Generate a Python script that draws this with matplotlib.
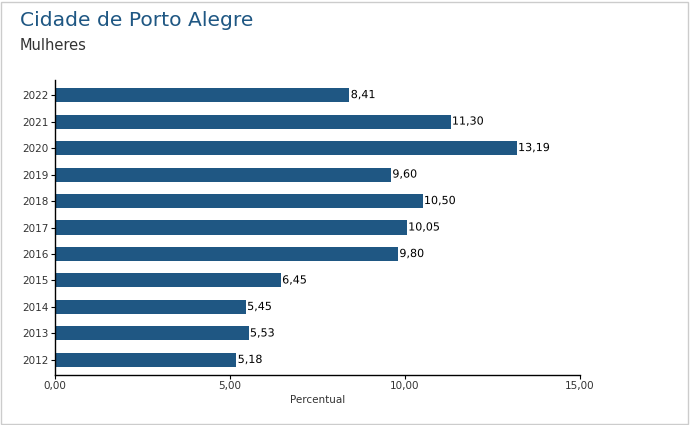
import matplotlib.pyplot as plt
import matplotlib.patheffects as pe
from matplotlib.patches import Rectangle

YEARS = ['2012', '2013', '2014', '2015', '2016', '2017', '2018', '2019', '2020', '2021', '2022']
VALUES = [5.18, 5.53, 5.45, 6.45, 9.80, 10.05, 10.50, 9.60, 13.19, 11.30, 8.41]
XTICKS = [0, 5, 10, 15]

BAR_COLOR = '#1f5783'
W, H = 690, 425


def fmt(v):
    return f"{v:.2f}".replace('.', ',')


def main():
    plt.rcParams['font.family'] = ['DejaVu Sans']
    fig = plt.figure(figsize=(W / 100, H / 100), dpi=100)

    # outer border
    fig.patches.append(Rectangle((1 / W, 1 / H), (W - 3) / W, (H - 3) / H,
                                 transform=fig.transFigure, fill=False,
                                 edgecolor='#cccccc', linewidth=1))

    fig.text(20 / W, 1 - 20 / H, 'Cidade de Porto Alegre', color='#1f5783',
             fontsize=14.6, va='center', ha='left')
    fig.text(20 / W, 1 - 45 / H, 'Mulheres', color='#333333',
             fontsize=10.5, va='center', ha='left')

    ax = fig.add_axes([55 / W, (H - 375) / H, (580 - 55) / W, (375 - 80) / H])
    pos = list(range(len(YEARS)))
    ax.barh(pos, VALUES, height=0.53, color=BAR_COLOR, edgecolor='none')

    for p, v in zip(pos, VALUES):
        ax.text(v + 0.04, p, fmt(v), va='center', ha='left', fontsize=8,
                color='black',
                path_effects=[pe.withStroke(linewidth=2.5, foreground='white')])

    ax.set_xlim(0, 15)
    ax.set_ylim(-0.57, len(YEARS) - 1 + 0.57)
    ax.set_yticks(pos)
    ax.set_yticklabels(YEARS)
    ax.set_xticks(XTICKS)
    ax.set_xticklabels([fmt(t) for t in XTICKS])
    ax.tick_params(axis='both', labelsize=7.5, labelcolor='#333333', color='black',
                   length=3, width=0.8, pad=1.5)
    ax.set_xlabel('Percentual', fontsize=7.5, color='#333333', labelpad=3)

    for s in ['top', 'right']:
        ax.spines[s].set_visible(False)
    for s in ['left', 'bottom']:
        ax.spines[s].set_color('black')
        ax.spines[s].set_linewidth(1)

    fig.savefig('out.png', dpi=100)


if __name__ == '__main__':
    main()
